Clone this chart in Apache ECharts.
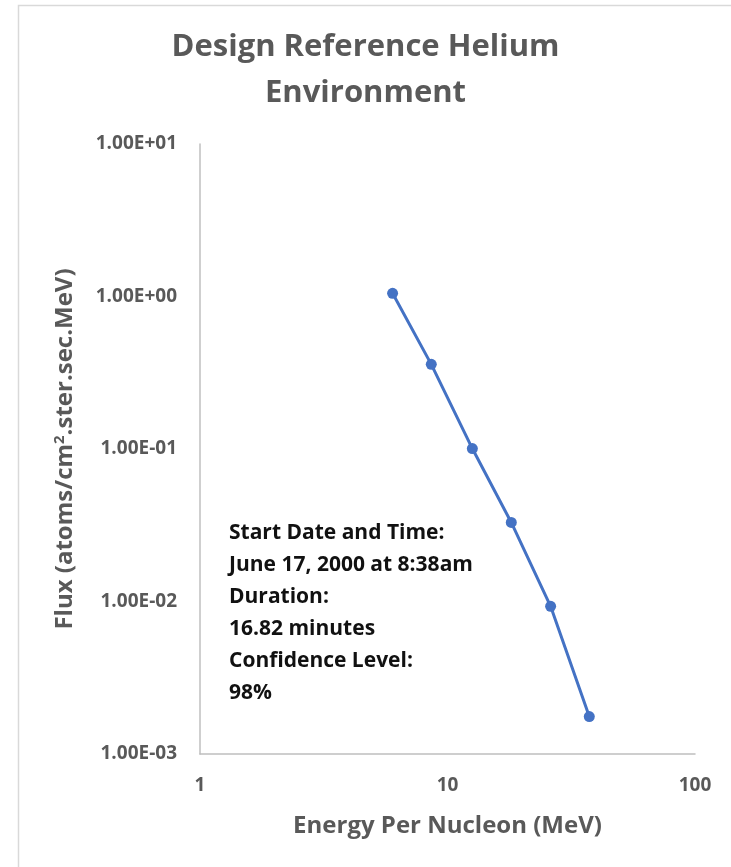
<!DOCTYPE html>
<html>
<head>
<meta charset="utf-8">
<script src="https://cdn.jsdelivr.net/npm/echarts@6/dist/echarts.min.js"></script>
<style>
html,body{margin:0;padding:0;background:#fff;}
#main{width:731px;height:867px;}
</style>
</head>
<body>
<div id="main"></div>
<script>
const energy = [6.0, 8.6, 12.6, 18.1, 26.1, 37.4];
const flux = [1.05, 0.359, 0.1007, 0.033, 0.0093, 0.00176];
const noteLines = [
  'Start Date and Time:',
  'June 17, 2000 at 8:38am',
  'Duration:',
  '16.82 minutes',
  'Confidence Level:',
  '98%'
];

function fmtExp(v) {
  const e = Math.round(Math.log10(v));
  const m = v / Math.pow(10, e);
  const sign = e < 0 ? '-' : '+';
  const ae = Math.abs(e);
  return m.toFixed(2) + 'E' + sign + (ae < 10 ? '0' + ae : ae);
}

const chart = echarts.init(document.getElementById('main'));
const font = '"Open Sans", sans-serif';
const gray = '#595959';

chart.setOption({
  backgroundColor: '#fff',
  animation: false,
  title: {
    text: 'Design Reference Helium\nEnvironment',
    left: 'center',
    top: 19,
    textStyle: {
      fontFamily: font,
      fontSize: 31,
      fontWeight: 'bold',
      color: gray,
      lineHeight: 46
    }
  },
  grid: { left: 200, right: 36, top: 144, bottom: 113 },
  xAxis: {
    type: 'log',
    logBase: 10,
    min: 1,
    max: 100,
    name: 'Energy Per Nucleon (MeV)',
    nameLocation: 'middle',
    nameGap: 60,
    nameTextStyle: { fontFamily: font, fontSize: 24, fontWeight: 'bold', color: gray },
    axisLine: { lineStyle: { color: '#bfbfbf', width: 1.5 } },
    axisTick: { show: false },
    splitLine: { show: false },
    minorTick: { show: false },
    axisLabel: {
      margin: 22,
      fontFamily: font,
      fontSize: 19,
      fontWeight: 'bold',
      color: gray,
      formatter: function (v) { return String(Math.round(v)); }
    }
  },
  yAxis: {
    type: 'log',
    logBase: 10,
    min: 0.001,
    max: 10,
    name: '{t|Flux (atoms/cm}{s|2}{t|.ster.sec.MeV)}',
    nameLocation: 'middle',
    nameGap: 121,
    nameRotate: 90,
    nameTextStyle: {
      rich: {
        t: { fontFamily: font, fontSize: 24, fontWeight: 'bold', color: gray },
        s: { fontFamily: font, fontSize: 15, fontWeight: 'bold', color: gray, verticalAlign: 'top', padding: [0, 0, 12, 0] }
      }
    },
    axisLine: { show: true, lineStyle: { color: '#bfbfbf', width: 1.5 } },
    axisTick: { show: false },
    splitLine: { show: false },
    axisLabel: {
      margin: 23,
      fontFamily: font,
      fontSize: 19,
      fontWeight: 'bold',
      color: gray,
      formatter: fmtExp
    }
  },
  graphic: [
    {
      type: 'rect',
      left: 16,
      top: 3,
      shape: { width: 730, height: 900 },
      style: { fill: 'none', stroke: '#d9d9d9', lineWidth: 1.5 },
      z: -1
    },
    {
      type: 'text',
      left: 229,
      top: 517,
      style: {
        text: noteLines.join('\n'),
        fontFamily: font,
        fontSize: 21,
        fontWeight: 'bold',
        fill: '#111',
        lineHeight: 32
      }
    }
  ],
  series: [{
    type: 'line',
    data: energy.map((e, i) => [e, flux[i]]),
    symbol: 'circle',
    symbolSize: 11,
    lineStyle: { color: '#4472C4', width: 3 },
    itemStyle: { color: '#4472C4' }
  }]
});
</script>
</body>
</html>
